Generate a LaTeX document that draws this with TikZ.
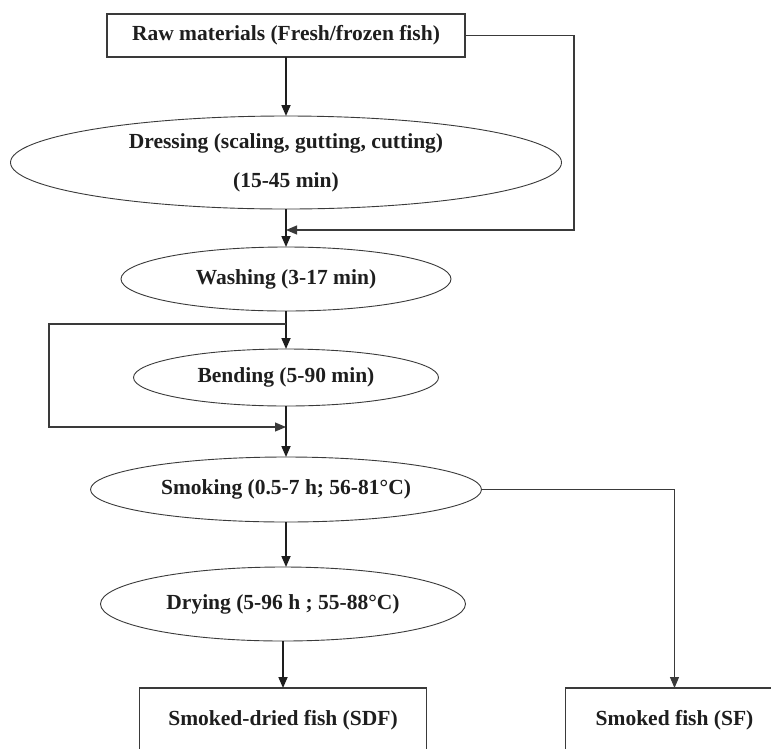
\documentclass[tikz,border=0pt]{standalone}
\usepackage{fontspec}
\setmainfont{Liberation Serif}
\usepackage{tikz}
\usetikzlibrary{arrows.meta,shapes.geometric,positioning,calc}
\definecolor{ink}{HTML}{1E1E1E}
\definecolor{edge}{HTML}{3A3A3A}
\tikzset{
  step_box/.style={draw=edge,line width=1.4pt,fill=white,rectangle,inner sep=0pt,outer sep=0pt,
    font=\fontsize{21.5}{26}\selectfont\bfseries\color{ink},align=center},
  step_oval/.style={draw=edge,line width=0.9pt,fill=white,ellipse,inner sep=0pt,outer sep=0pt,
    font=\fontsize{21.5}{26}\selectfont\bfseries\color{ink},align=center},
  arr/.style={-{Triangle[length=11pt,width=9pt]},draw=ink,line width=1.7pt},
  arr_thin/.style={-{Triangle[length=11pt,width=9pt]},draw=edge,line width=1.1pt},
}
\begin{document}
\begin{tikzpicture}[node distance=40pt]
  \useasboundingbox (0,0) rectangle (771pt,-748pt);
  \clip (0,0) rectangle (771pt,-748pt);

  \node[step_box,minimum width=358pt,minimum height=43pt] (raw) at (286pt,-35.5pt) {Raw materials (Fresh/frozen fish)};
  \node[step_oval,minimum width=551pt,minimum height=93pt, below=59pt of raw] (dress)
    {Dressing (scaling, gutting, cutting)\\[13pt](15-45 min)};
  \node[step_oval,minimum width=330pt,minimum height=64pt, below=38pt of dress] (wash) {Washing (3-17 min)};
  \node[step_oval,minimum width=305pt,minimum height=57pt, below=38pt of wash] (bend) {Bending (5-90 min)};
  \node[step_oval,minimum width=391pt,minimum height=65pt, below=51pt of bend] (smoke) {Smoking (0.5-7 h; 56-81\textdegree C)};
  \node[step_oval,minimum width=365pt,minimum height=74pt, below=45pt of smoke,xshift=-3pt] (dry) {Drying (5-96 h ; 55-88\textdegree C)};

  \node[step_box,minimum width=287pt,minimum height=64pt, below=47pt of dry] (sdf) {Smoked-dried fish (SDF)};
  \node[step_box,minimum width=218pt,minimum height=64pt, right=139pt of sdf] (sf) {Smoked fish (SF)};

  \coordinate (fb_in) at ([yshift=17pt]wash.north);
  \coordinate (loop_out) at ([yshift=-13pt]wash.south);
  \coordinate (loop_in) at ([yshift=30pt]smoke.north);

  \draw[arr] (raw) -- (dress);
  \draw[arr_thin] (raw.east) -- ++(109pt,0) |- (fb_in);
  \draw[arr] (dress) -- (wash);
  \draw[arr] (wash) -- (bend);
  \draw[arr_thin] (loop_out) -- ++(-237pt,0) |- (loop_in);
  \draw[arr] (bend) -- (smoke);
  \draw[arr] (smoke.south) -- (smoke.south |- dry.north);
  \draw[arr] (dry) -- (dry |- sdf.north);
  \draw[arr_thin] (smoke.east) -| (sf.north);
\end{tikzpicture}
\end{document}
